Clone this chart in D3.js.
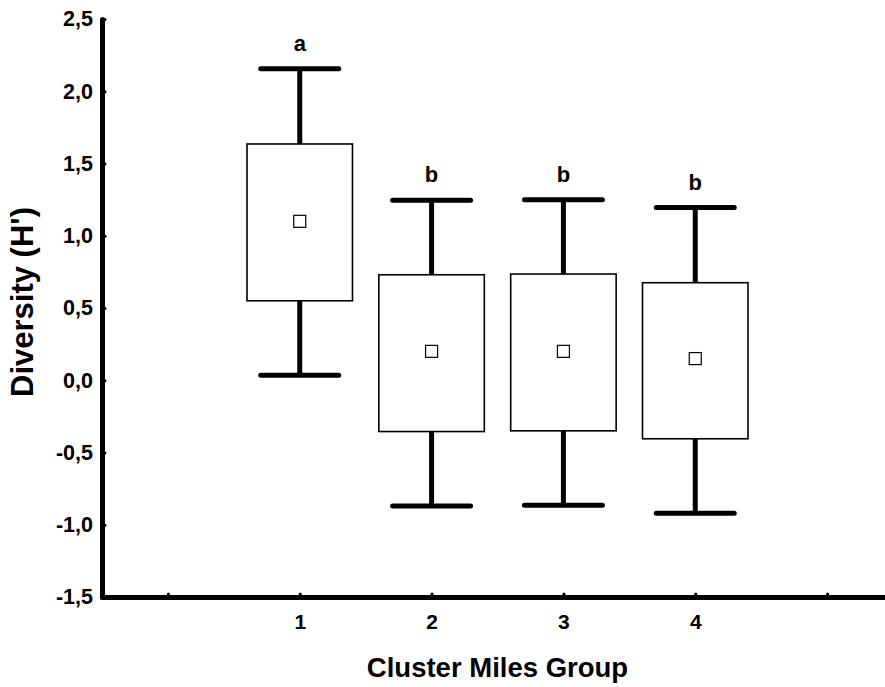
<!DOCTYPE html>
<html>
<head>
<meta charset="utf-8">
<script src="https://cdn.jsdelivr.net/npm/d3@7"></script>
<style>
  body { margin: 0; background: #fff; }
  svg { display: block; font-family: "Liberation Sans", Arial, sans-serif; font-weight: bold; }
  .axis .domain { stroke: #000; stroke-width: 5; stroke-linecap: round; }
  .axis .tick line { stroke: #000; stroke-width: 3; stroke-linecap: round; }
  .axis text { fill: #000; font-weight: bold; font-family: "Liberation Sans", Arial, sans-serif; }
</style>
</head>
<body>
<svg width="885" height="687"></svg>
<script>
// values (mean, mean +/- SE box, mean +/- SD whiskers)
var groups = [1, 2, 3, 4];
var means = [1.10, 0.20, 0.20, 0.15];
var boxLow = [0.55, -0.355, -0.35, -0.405];
var boxHigh = [1.635, 0.73, 0.735, 0.675];
var whiskerLow = [0.035, -0.87, -0.865, -0.92];
var whiskerHigh = [2.155, 1.245, 1.25, 1.195];
var letters = ["a", "b", "b", "b"];
var yTicks = [-1.5, -1.0, -0.5, 0.0, 0.5, 1.0, 1.5, 2.0, 2.5];
var xTicks = [0, 1, 2, 3, 4, 5];

var svg = d3.select("svg"),
    width = +svg.attr("width"),
    height = +svg.attr("height");

var x = d3.scaleLinear()
    .domain([-0.5, 5.5])
    .range([102, 893]);

var y = d3.scaleLinear()
    .domain([-1.5, 2.5])
    .range([597, 19]);

var fmt = function(d) { return d3.format(".1f")(d).replace(".", ",").replace("−", "-"); };

var data = groups.map(function(g, i) {
  return { g: g, mean: means[i], lo: boxLow[i], hi: boxHigh[i],
           wlo: whiskerLow[i], whi: whiskerHigh[i], letter: letters[i] };
});

var boxHalf = x(0.4) - x(0);
var capHalf = 39;

// boxes
var box = svg.append("g").selectAll("g")
  .data(data)
  .enter().append("g");

box.append("line")
    .attr("x1", function(d) { return x(d.g); })
    .attr("x2", function(d) { return x(d.g); })
    .attr("y1", function(d) { return y(d.whi); })
    .attr("y2", function(d) { return y(d.wlo); })
    .attr("stroke", "#000")
    .attr("stroke-width", 5);

box.selectAll(".cap")
  .data(function(d) { return [d.whi, d.wlo].map(function(v) { return { g: d.g, v: v }; }); })
  .enter().append("line")
    .attr("class", "cap")
    .attr("x1", function(d) { return x(d.g) - capHalf; })
    .attr("x2", function(d) { return x(d.g) + capHalf; })
    .attr("y1", function(d) { return y(d.v); })
    .attr("y2", function(d) { return y(d.v); })
    .attr("stroke", "#000")
    .attr("stroke-width", 5)
    .attr("stroke-linecap", "round");

box.append("rect")
    .attr("x", function(d) { return x(d.g) - boxHalf; })
    .attr("width", boxHalf * 2)
    .attr("y", function(d) { return y(d.hi); })
    .attr("height", function(d) { return y(d.lo) - y(d.hi); })
    .attr("fill", "#fff")
    .attr("stroke", "#000")
    .attr("stroke-width", 1.6);

box.append("rect")
    .attr("x", function(d) { return x(d.g) - 6; })
    .attr("y", function(d) { return y(d.mean) - 6; })
    .attr("width", 12)
    .attr("height", 12)
    .attr("fill", "#fff")
    .attr("stroke", "#000")
    .attr("stroke-width", 1.2);

box.append("text")
    .attr("x", function(d) { return x(d.g); })
    .attr("y", function(d) { return y(d.whi) - 18; })
    .attr("text-anchor", "middle")
    .attr("font-size", 22)
    .text(function(d) { return d.letter; });

// axes
svg.append("g")
    .attr("class", "axis")
    .attr("transform", "translate(" + x(-0.5) + ",0)")
    .call(d3.axisLeft(y)
      .tickValues(yTicks)
      .tickSize(-3)
      .tickSizeOuter(0)
      .tickPadding(9)
      .tickFormat(fmt))
    .selectAll("text")
    .attr("font-size", 21.5);

svg.append("g")
    .attr("class", "axis")
    .attr("transform", "translate(0," + y(-1.5) + ")")
    .call(d3.axisBottom(x)
      .tickValues(xTicks)
      .tickSize(-3)
      .tickSizeOuter(0)
      .tickPadding(17)
      .tickFormat(function(d) { return groups.indexOf(d) >= 0 ? d : ""; }))
    .selectAll("text")
    .attr("font-size", 21);

svg.append("text")
    .attr("transform", "translate(33," + 302 + ") rotate(-90)")
    .attr("text-anchor", "middle")
    .attr("font-size", 31)
    .text("Diversity (H')");

svg.append("text")
    .attr("x", (x(-0.5) + x(5.5)) / 2)
    .attr("y", 677)
    .attr("text-anchor", "middle")
    .attr("font-size", 27.5)
    .text("Cluster Miles Group");
</script>
</body>
</html>
